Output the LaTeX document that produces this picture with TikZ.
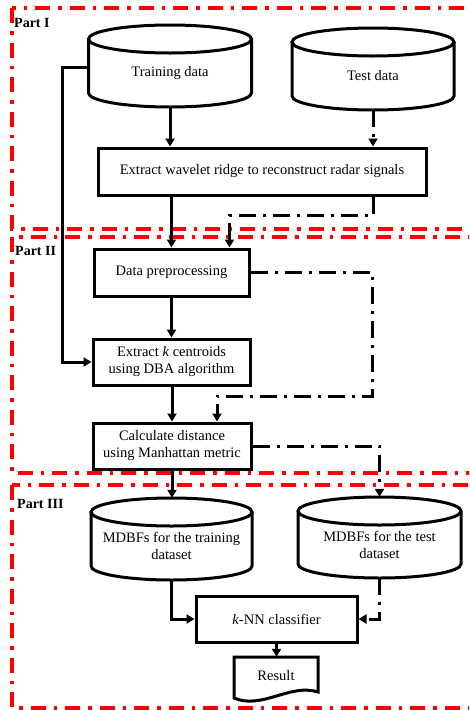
\documentclass[tikz,border=0pt]{standalone}
\usepackage{fontspec}
\setmainfont{Liberation Serif}
\usetikzlibrary{arrows.meta}
\begin{document}
\begin{tikzpicture}[x=1pt,y=-1pt,
  blk/.style={line width=3pt,line join=miter},
  flow/.style={blk,-{Triangle[length=8pt,width=9pt]}},
  dd/.style={dash pattern=on 17pt off 7pt on 3pt off 7pt},
  redbox/.style={draw=red,line width=3.2pt,dash pattern=on 15pt off 8pt on 3.5pt off 8pt},
  txt/.style={font=\fontsize{14.5}{17}\selectfont,align=center},
  procbox/.style={draw,blk,txt,inner sep=0pt},
  cylnode/.style={txt,inner sep=0pt},
  partlbl/.style={anchor=west,inner sep=0pt,font=\fontsize{14}{16}\selectfont\bfseries}
]
\useasboundingbox (0,0) rectangle (469,710);
\clip (0,0) rectangle (469,710);
\fill[white] (0,0) rectangle (469,710);

% red part frames
\draw[redbox] (12,8) rectangle (500,229);
\draw[redbox] (12,237) rectangle (500,473);
\draw[redbox] (12,485) rectangle (500,708);

\node[partlbl] (p1) at (14,23) {Part I};
\node[partlbl] (p2) at (15,251) {Part II};
\node[partlbl] (p3) at (17,504) {Part III};

% cylinders
\draw[blk] (170,39) ellipse [x radius=81.5pt, y radius=14pt];
\draw[blk] (88.5,39) -- (88.5,93) arc[start angle=180,end angle=360,x radius=81.5pt,y radius=14pt] -- (251.5,39);
\node[cylnode,minimum width=163pt,minimum height=68pt] (train) at (170,73) {Training data};

\draw[blk] (373,42) ellipse [x radius=81pt, y radius=14pt];
\draw[blk] (292,42) -- (292,96) arc[start angle=180,end angle=360,x radius=81pt,y radius=14pt] -- (454,42);
\node[cylnode,minimum width=162pt,minimum height=68pt] (test) at (373,76) {Test data};

\draw[blk] (171.5,512) ellipse [x radius=80.5pt, y radius=14pt];
\draw[blk] (91,512) -- (91,566) arc[start angle=180,end angle=360,x radius=80.5pt,y radius=14pt] -- (252,512);
\node[cylnode,minimum width=161pt,minimum height=68pt] (mtrain) at (171.5,546) {MDBFs for the training\\dataset};

\draw[blk] (379.5,511) ellipse [x radius=81.5pt, y radius=14pt];
\draw[blk] (298,511) -- (298,564) arc[start angle=180,end angle=360,x radius=81.5pt,y radius=14pt] -- (461,511);
\node[cylnode,minimum width=163pt,minimum height=67pt] (mtest) at (379.5,544.5) {MDBFs for the test\\dataset};

% process boxes
\node[procbox,minimum width=328pt,minimum height=47pt] (wav) at (262,171.5) {Extract wavelet ridge to reconstruct radar signals};
\node[procbox,minimum width=155pt,minimum height=47pt] (prep) at (171.5,272.5) {Data preprocessing};
\node[procbox,minimum width=157pt,minimum height=46pt] (cent) at (171.5,362) {Extract \textit{k} centroids\\using DBA algorithm};
\node[procbox,minimum width=158pt,minimum height=46pt] (calc) at (172,446) {Calculate distance\\using Manhattan metric};
\node[procbox,minimum width=161pt,minimum height=46pt] (knn) at (276.5,619) {\textit{k}-NN classifier};

% result (document shape)
\node[txt,minimum width=84pt,minimum height=38pt,inner sep=0pt] (result) at (276,676) {Result};
\draw[blk] (234,657) -- (318,657) -- (318,692) .. controls (290,683) and (262,710) .. (234,698) -- cycle;

% connectors
\coordinate (lb) at (62,0);
\coordinate (r1) at (229.5,215);
\coordinate (r2) at (372,396);
\coordinate (mtrtop) at ([yshift=14pt]mtrain.north);
\coordinate (mtetop) at ([yshift=14pt]mtest.north);
\draw[flow] (train.south) -- (train.south |- wav.north);
\draw[flow,dd] (test.south) -- (test.south |- wav.north);
\draw[flow] (prep.north |- wav.south) -- (prep.north);
\draw[flow,dd] (wav.south -| test.south) |- (r1) -- (r1 |- prep.north);
\draw[flow] ([yshift=6pt]train.west) -| (lb |- cent.west) -- (cent.west);
\draw[flow] (prep.south) -- (prep.south |- cent.north);
\draw[flow,dd] (prep.east) -| (r2) -| ([xshift=45pt]calc.north);
\draw[flow] (cent.south -| calc.north) -- (calc.north);
\draw[flow,dd] (calc.east) -| (mtetop);
\draw[flow] (calc.south) -- (calc.south |- mtrtop);
\draw[flow] (mtrain.south) |- (knn.west);
\draw[flow,dd] (mtest.south) |- (knn.east);
\draw[flow] (knn.south) -- (knn.south |- result.north);
\end{tikzpicture}
\end{document}
